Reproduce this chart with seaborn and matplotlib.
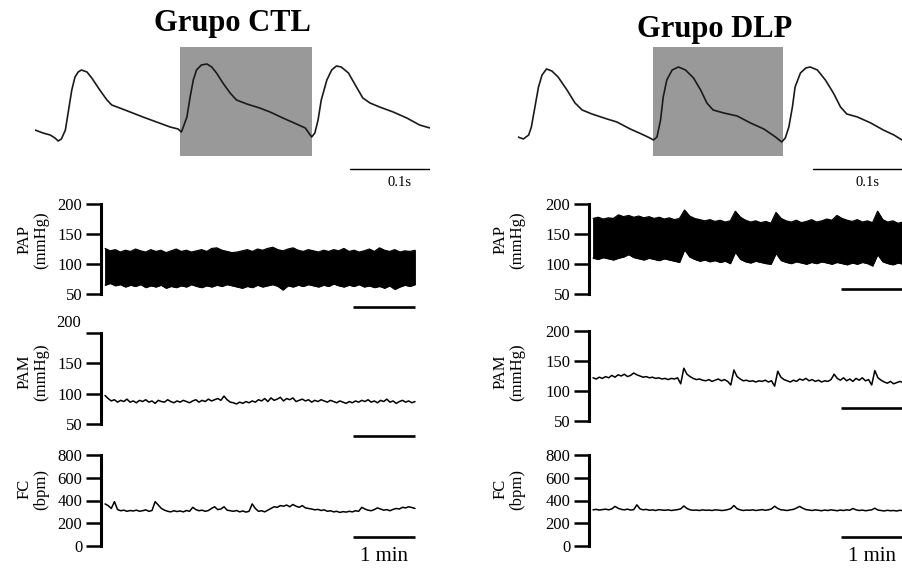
import numpy as np
import pandas as pd
import seaborn as sns
import matplotlib.pyplot as plt

W, H = 903, 570

# --- DATA ---
# pulse waveform (ms, arbitrary pressure units)
pulse_ctl_t = [0, 10, 19, 25, 29, 33, 38, 42, 46, 50, 54, 58, 65, 71, 81, 90, 96, 106, 119, 135,
               152, 169, 179, 183,
               185, 190, 194, 198, 202, 208, 215, 221, 227, 235, 244, 252, 265, 281, 294, 310,
               327, 338, 346,
               350, 354, 358, 365, 371, 377, 383, 392, 402, 410, 419, 431, 448, 465, 481, 494]
pulse_ctl_p = [30, 27, 25, 22, 19, 21, 30, 50, 70, 83, 88, 90, 88, 82, 70, 60, 55, 52, 48, 43,
               38, 33, 31, 28,
               32, 43, 63, 80, 90, 95, 96, 93, 87, 77, 67, 60, 56, 52, 48, 42, 36, 32, 23,
               27, 40, 60, 80, 90, 94, 93, 87, 73, 62, 57, 53, 48, 42, 35, 32]
pulse_dlp_t = [0, 6, 12, 15, 19, 23, 27, 32, 38, 45, 55, 64, 72, 83, 100, 111, 126, 141, 148, 152,
               156, 160, 163, 167, 173, 180, 188, 197, 205, 212, 219, 231, 246, 261, 276, 289, 296,
               300, 304, 308, 311, 317, 323, 328, 336, 345, 354, 362, 369, 381, 396, 410, 422, 431]
pulse_dlp_p = [23, 21, 25, 33, 53, 73, 85, 91, 89, 83, 70, 57, 50, 46, 41, 38, 31, 25, 22, 20,
               23, 40, 63, 80, 90, 93, 90, 82, 70, 57, 50, 47, 44, 37, 31, 23, 18,
               22, 33, 53, 73, 87, 92, 93, 90, 80, 67, 53, 46, 43, 37, 30, 25, 20]
box_ctl = (181, 346)
box_dlp = (152, 297)

# PAP envelopes (mmHg) over 5 min
pap_ctl_upper = [126, 122, 124, 120, 123, 121, 125, 122, 120, 124, 121, 123, 119, 122, 125, 121,
                 123, 120, 122, 124, 121, 126, 127, 123, 121, 119, 120, 122, 124, 121, 125, 123,
                 126, 128, 124, 122, 125, 127, 123, 121, 124, 122, 120, 123, 121, 124, 122, 126,
                 121, 123, 120, 122, 125, 121, 127, 123, 121, 124, 120, 122, 121, 123]
pap_ctl_lower = [65, 68, 64, 66, 62, 65, 63, 66, 61, 64, 62, 65, 60, 63, 61, 64, 62, 66, 63, 61,
                 64, 62, 65, 63, 66, 64, 62, 60, 63, 61, 65, 62, 64, 66, 63, 57, 64, 62, 65, 63,
                 66, 64, 62, 65, 63, 67, 64, 62, 65, 63, 66, 62, 64, 61, 63, 60, 64, 58, 62, 65,
                 63, 66]
pap_dlp_upper = [176, 178, 175, 177, 176, 182, 179, 181, 178, 180, 177, 179, 176, 178, 175, 177,
                 174, 176, 190, 180, 176, 174, 172, 174, 171, 173, 170, 172, 188, 178, 173, 170,
                 172, 169, 171, 168, 186, 176, 172, 170, 173, 169, 171, 174, 170, 172, 175, 173,
                 181, 176, 173, 171, 174, 170, 172, 169, 188, 174, 170, 172, 168, 170]
pap_dlp_lower = [110, 108, 111, 109, 107, 110, 112, 116, 111, 109, 107, 110, 108, 106, 109, 107,
                 105, 103, 124, 112, 108, 105, 107, 104, 106, 103, 105, 101, 120, 108, 104, 102,
                 105, 103, 101, 100, 118, 106, 103, 101, 104, 102, 100, 103, 101, 104, 102, 100,
                 103, 101, 99, 102, 100, 103, 101, 97, 116, 104, 101, 99, 102, 100]

# PAM (mmHg)
pam_ctl = [97, 92, 88, 90, 86, 89, 87, 91, 86, 88, 85, 89, 87, 90, 86, 88, 84, 89, 87, 86,
           90, 87, 85, 88, 86, 89, 87, 85, 88, 90, 86, 89, 87, 91, 88, 90, 92, 89, 96, 90,
           86, 85, 83, 86, 84, 87, 85, 88, 86, 90, 88, 92, 87, 93, 89, 91, 94, 88, 92, 90,
           93, 87, 89, 91, 88, 90, 86, 89, 87, 90, 88, 86, 89, 87, 85, 88, 86, 84, 87, 85,
           88, 86, 89, 87, 90, 86, 88, 85, 89, 87, 91, 86, 88, 84, 87, 89, 86, 88, 85, 87]
pam_dlp = [122, 120, 123, 121, 124, 122, 126, 123, 127, 125, 128, 124, 126, 130, 127, 125, 123,
           124, 122, 123, 121, 122, 120, 121, 119, 121, 120, 122, 112, 138, 128, 124, 121, 119,
           120, 118, 117, 119, 116, 118, 120, 117, 119, 116, 110, 135, 124, 120, 117, 118, 116,
           117, 115, 117, 116, 118, 115, 117, 108, 133, 123, 119, 117, 115, 118, 116, 120, 118,
           121, 117, 119, 116, 118, 115, 117, 116, 119, 128, 121, 118, 122, 117, 120, 116, 121,
           118, 122, 117, 119, 110, 134, 122, 118, 115, 113, 116, 112, 114, 116, 114]

# FC (bpm)
fc_ctl = [370, 355, 330, 390, 320, 310, 315, 305, 312, 308, 315, 306, 310, 318, 305, 312, 390,
          360, 330, 315, 305, 300, 310, 303, 308, 300, 312, 305, 340, 320, 310, 315, 305, 312,
          330, 345, 320, 325, 345, 315, 310, 305, 312, 300, 308, 298, 305, 370, 330, 305, 310,
          300, 315, 330, 345, 340, 355, 350, 360, 345, 365, 350, 340, 355, 335, 330, 325, 318,
          322, 312, 318, 305, 310, 300, 305, 295, 302, 298, 305, 300, 310, 305, 340, 325, 315,
          310, 320, 335, 325, 315, 320, 310, 322, 330, 325, 340, 335, 345, 338, 330]
fc_dlp = [318, 322, 316, 320, 324, 318, 326, 348, 332, 322, 318, 324, 316, 320, 362, 326, 318,
          322, 314, 318, 312, 320, 316, 314, 318, 312, 316, 320, 326, 352, 330, 318, 314, 316,
          312, 318, 314, 316, 312, 318, 316, 312, 314, 320, 328, 356, 328, 318, 312, 316, 314,
          318, 312, 316, 320, 314, 318, 326, 350, 330, 318, 316, 312, 318, 322, 334, 348, 332,
          320, 316, 312, 318, 314, 310, 316, 312, 318, 314, 310, 316, 312, 318, 314, 330, 318,
          312, 316, 310, 314, 318, 332, 316, 312, 308, 314, 310, 312, 308, 314, 310]

groups = ["Grupo CTL", "Grupo DLP"]
DURATION = 5.0  # min

# --- STYLE ---
sns.set_theme(style="ticks")
plt.rcParams['font.family'] = ['Liberation Serif', 'DejaVu Serif']
plt.rcParams['text.color'] = 'black'

fig = plt.figure(figsize=(W / 100, H / 100), dpi=100)


def px_axes(x0, x1, y0, y1):
    return fig.add_axes([x0 / W, 1 - y1 / H, (x1 - x0) / W, (y1 - y0) / H])


def trace_axes(x_left, y_hi_px, y_lo_px, v_lo, v_hi, ylim, ticks):
    k = (y_lo_px - y_hi_px) / (v_hi - v_lo)
    top = y_hi_px - (ylim[1] - v_hi) * k
    bot = y_lo_px + (v_lo - ylim[0]) * k
    ax = px_axes(x_left, x_left + 315, top, bot)
    ax.set_ylim(ylim)
    ax.set_xlim(-0.065, 5.016)
    sns.despine(ax=ax, bottom=True)
    ax.spines['left'].set_bounds(v_lo, v_hi)
    ax.spines['left'].set_linewidth(2.2)
    ax.spines['left'].set_color('black')
    ax.set_xticks([])
    ax.set_yticks(ticks)
    ax.tick_params(axis='y', length=10.5, width=1.8, pad=3, labelsize=12,
                   color='black', labelcolor='black')
    ax.set_facecolor('none')
    return ax


def scale_bar(ax, y):
    ax.plot([4.0, 5.0], [y, y], color='black', lw=1.9, solid_capstyle='butt')


# --- PULSE WAVEFORMS ---
pulse_specs = [
    (pulse_ctl_t, pulse_ctl_p, box_ctl, (35, 430), 494, 456),
    (pulse_dlp_t, pulse_dlp_p, box_dlp, (518, 902), 431, 392),
]
for t, p, box, (x0, x1), tmax, txt_x in pulse_specs:
    ax = px_axes(x0, x1, 40, 190)
    ax.set_xlim(0, tmax)
    ax.set_ylim(-30, 120)
    ax.axvspan(box[0], box[1], ymin=(4 + 30) / 150, ymax=(113 + 30) / 150,
               color='#999999', lw=0, zorder=0)
    sns.lineplot(x=t, y=p, ax=ax, color='#1a1a1a', lw=1.2, zorder=2)
    ax.plot([tmax - 100, tmax], [-9, -9], color='black', lw=1.0)
    ax.text(txt_x, -23, "0.1s", ha='center', va='center', fontsize=10.5)
    ax.axis('off')

fig.text(232 / W, 1 - 24 / H, groups[0], ha='center', va='center',
         fontsize=22, fontweight='bold')
fig.text(715 / W, 1 - 29 / H, groups[1], ha='center', va='center',
         fontsize=22, fontweight='bold')

# --- CONTINUOUS TRACES ---
cols = [
    dict(x=101, pap=(pap_ctl_lower, pap_ctl_upper), pam=pam_ctl, fc=fc_ctl,
         pam_px=(333, 424), bars=(28, 30, 79), lab_x=33),
    dict(x=589, pap=(pap_dlp_lower, pap_dlp_upper), pam=pam_dlp, fc=fc_dlp,
         pam_px=(331, 421), bars=(58, 72, 79), lab_x=509),
]

for i, c in enumerate(cols):
    # PAP
    ax = trace_axes(c['x'], 204, 294, 50, 200, (20, 206), [50, 100, 150, 200])
    lo, up = c['pap']
    tt = np.linspace(0, DURATION, len(lo))
    df = pd.DataFrame({'t': tt, 'lo': lo, 'up': up})
    ax.fill_between(df['t'], df['lo'], df['up'], color='black', lw=0.6)
    sns.lineplot(data=df, x='t', y='up', ax=ax, color='black', lw=0.8)
    sns.lineplot(data=df, x='t', y='lo', ax=ax, color='black', lw=0.8)
    ax.set_xlabel('')
    ax.set_ylabel('')
    scale_bar(ax, c['bars'][0])

    # PAM
    ax = trace_axes(c['x'], c['pam_px'][0], c['pam_px'][1], 50, 200, (20, 206),
                    [50, 100, 150, 200])
    tt = np.linspace(0, DURATION, len(c['pam']))
    sns.lineplot(x=tt, y=c['pam'], ax=ax, color='black', lw=1.1)
    if i == 0:
        ax.set_yticklabels(['50', '100', '150', ''])
        ax.annotate('200', xy=(0, 200), xycoords=ax.get_yaxis_transform(),
                    xytext=(-14.2, 7.5), textcoords='offset points',
                    ha='right', va='center', fontsize=12)
    scale_bar(ax, c['bars'][1])

    # FC
    ax = trace_axes(c['x'], 455, 546, 0, 800, (-30, 810), [0, 200, 400, 600, 800])
    tt = np.linspace(0, DURATION, len(c['fc']))
    sns.lineplot(x=tt, y=c['fc'], ax=ax, color='black', lw=1.1)
    scale_bar(ax, c['bars'][2])
    ax.text(4.5, -95, "1 min", ha='center', va='center', fontsize=15)

    # y labels
    for txt, yc in [("PAP\n(mmHg)", 240), ("PAM\n(mmHg)", 372), ("FC\n(bpm)", 489)]:
        fig.text(c['lab_x'] / W, 1 - yc / H, txt, rotation=90, ha='center', va='center',
                 fontsize=12, linespacing=1.0, multialignment='center')

fig.savefig("out.png", dpi=100)
